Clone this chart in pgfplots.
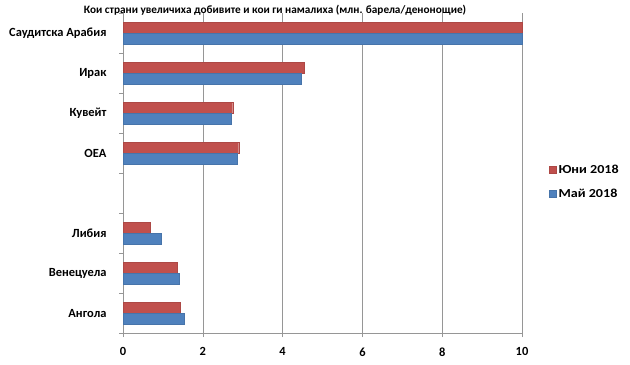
\documentclass[border=0pt]{standalone}
\usepackage{pgfplots}
\pgfplotsset{compat=1.18}
\usepackage{fontspec}
\setmainfont{Carlito}
\newfontfamily\legfont{Carlito}[FakeStretch=1.15]
\definecolor{exred}{HTML}{C0504D}
\definecolor{exblue}{HTML}{4F81BD}
\definecolor{gridg}{HTML}{969696}
\begin{document}
\begin{tikzpicture}[x=1bp,y=1bp]
\path[use as bounding box] (0,0) rectangle (630,364);
\node[font=\fontsize{11.3}{12}\selectfont\bfseries] at (275,354) {Кои страни увеличиха добивите и кои ги намалиха (млн. барела/денонощие)};
\begin{axis}[
  at={(123bp,31bp)}, anchor=south west,
  scale only axis, width=399bp, height=320bp,
  xbar, y dir=reverse,
  xmin=0, xmax=10, xtick={0,2,4,6,8,10},
  ymin=-0.5, ymax=7.5,
  ytick={-0.5,0.5,1.5,2.5,3.5,4.5,5.5,6.5,7.5},
  yticklabels={},
  extra y ticks={0,1,2,3,4,5,6,7},
  extra y tick labels={Саудитска Арабия\hspace{10bp},Ирак,Кувейт,ОЕА,,Либия,Венецуела,Ангола},
  extra y tick style={tick style={draw=none}, yticklabel style={xshift=-9bp}},
  major tick length=4bp,
  tick align=outside,
  xmajorgrids, grid style={gridg, line width=0.6pt},
  axis x line*=bottom, axis y line*=left,
  axis line style={gridg, line width=0.6pt},
  tick style={gridg, line width=0.6pt},
  tick label style={font=\fontsize{12.5}{14}\selectfont\bfseries},
  /pgf/number format/assume math mode=true,
  xticklabel style={yshift=-7bp},
  x axis line style={-}, y axis line style={-},
  bar width=11bp,
  legend style={at={(1.06,0.473)}, anchor=west, draw=none, fill=none,
    font=\fontsize{12.3}{13}\legfont\bfseries, row sep=10bp},
  legend cell align=left,
  legend image code/.code={\fill[#1] (0bp,-3.5bp) rectangle (7bp,3.5bp);},
  clip=false,
]
\addplot[draw=exred!90!black, fill=exred, bar shift=5.5bp] coordinates {
(10,0) (4.54,1) (2.75,2) (2.90,3) (0.69,5) (1.35,6) (1.44,7)};
\addlegendentry{Юни 2018}
\addplot[draw=exblue!90!black, fill=exblue, bar shift=-5.5bp] coordinates {
(10,0) (4.47,1) (2.71,2) (2.86,3) (0.96,5) (1.40,6) (1.53,7)};
\addlegendentry{Май 2018}
\end{axis}
\end{tikzpicture}
\end{document}
